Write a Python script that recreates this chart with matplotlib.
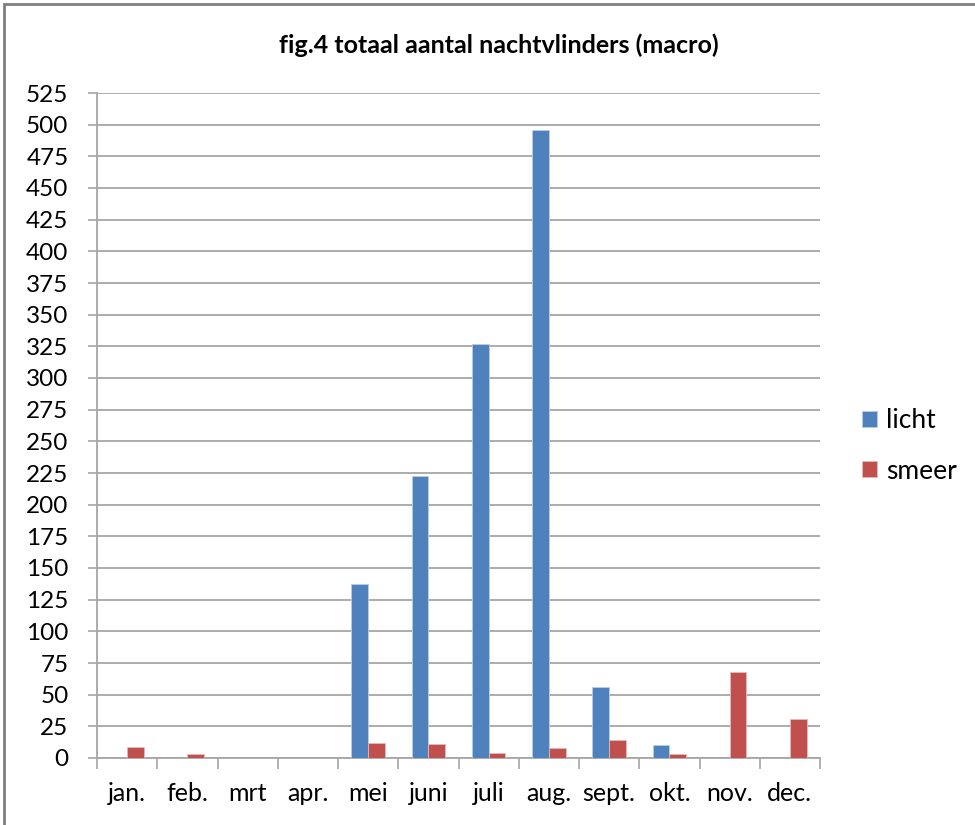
import matplotlib
matplotlib.use("Agg")
import matplotlib.pyplot as plt
from matplotlib.patches import Rectangle
import numpy as np

months = ["jan.", "feb.", "mrt", "apr.", "mei", "juni", "juli", "aug.", "sept.", "okt.", "nov.", "dec."]
licht = [0, 0, 0, 0, 137, 223, 327, 496, 56, 10, 0, 0]
smeer = [9, 3, 0, 0, 12, 11, 4, 8, 14, 3, 68, 31]
yticks = list(range(0, 526, 25))
title = "fig.4 totaal aantal nachtvlinders (macro)"

plt.rcParams['font.family'] = ['Lato', 'DejaVu Sans']

fig = plt.figure(figsize=(9.75, 8.25), dpi=100)
ax = fig.add_axes([97/975, 1-758/825, (820-97)/975, (758-93)/825])

x = np.arange(len(months))
w = 0.28
ax.bar(x - w/2, licht, width=w, color="#4F81BD", edgecolor="#B9CDE5", linewidth=0.6, label="licht", zorder=3)
ax.bar(x + w/2, smeer, width=w, color="#C0504D", edgecolor="#E6B9B8", linewidth=0.6, label="smeer", zorder=3)

ax.set_xlim(-0.5, len(months) - 0.5)
ax.set_ylim(0, 525)
ax.set_yticks(yticks)
ax.set_yticklabels([str(v) for v in yticks], fontsize=17.5)
ax.yaxis.grid(True, color="#A6A6A6", linewidth=1.3, zorder=0)
ax.set_axisbelow(True)

ax.set_xticks(x)
ax.set_xticklabels(months, fontsize=18)
ax.tick_params(axis='x', length=0, pad=17)
ax.set_xticks(np.arange(-0.5, len(months), 1), minor=True)
ax.tick_params(axis='x', which='minor', length=8, width=1.2, color="#A6A6A6", direction='out')
ax.tick_params(axis='y', length=6.5, width=1.2, color="#A6A6A6", pad=14)

for s in ["top", "right"]:
    ax.spines[s].set_visible(False)
for s in ["left", "bottom"]:
    ax.spines[s].set_color("#A6A6A6")
    ax.spines[s].set_linewidth(1.3)

fig.text(499/975, 1-45/825, title, ha="center", va="center", fontsize=18, fontweight="bold")

leg = ax.legend(loc="center left", bbox_to_anchor=(862/975, 1-446/825), bbox_transform=fig.transFigure,
                frameon=False, fontsize=19, borderpad=0, borderaxespad=0,
                handlelength=0.57, handleheight=0.57, labelspacing=0.95, handletextpad=0.35)

fig.patches.append(Rectangle((4/975, -0.05), 1.1, 1.05 - 4/825, transform=fig.transFigure,
                             fill=False, edgecolor="#7F7F7F", linewidth=2))

fig.savefig("out.png", dpi=100)
